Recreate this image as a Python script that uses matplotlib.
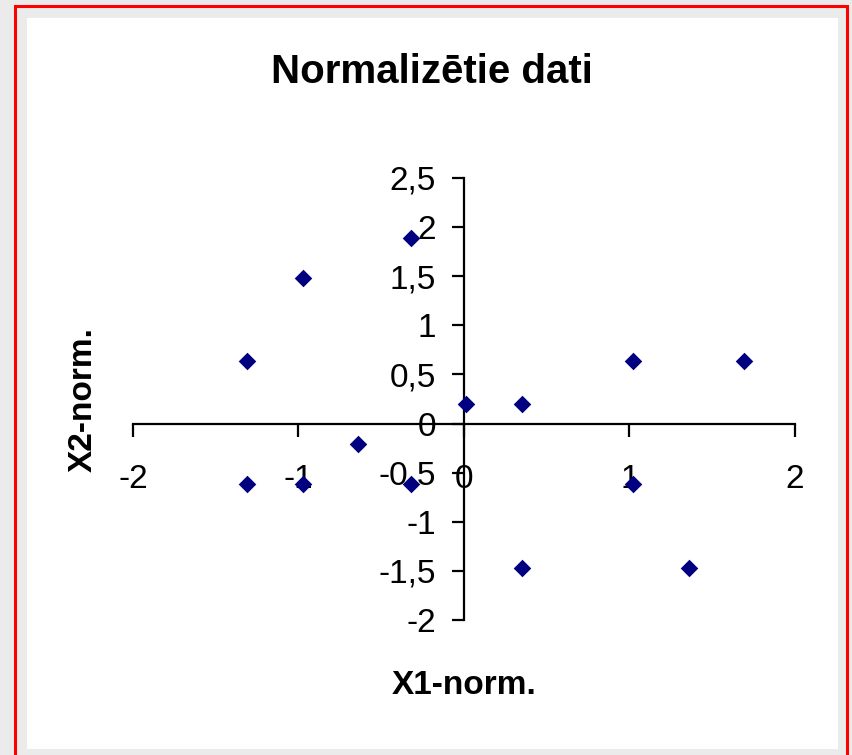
import matplotlib.pyplot as plt
import matplotlib.patches as patches
from matplotlib.ticker import FuncFormatter

# normalized data
x1_norm = [-1.31, -1.31, -0.97, -0.97, -0.64, -0.32, -0.32, 0.01, 0.35, 0.35, 1.02, 1.02, 1.36, 1.69]
x2_norm = [0.64, -0.62, 1.48, -0.62, -0.21, 1.89, -0.62, 0.2, 0.2, -1.47, 0.64, -0.62, -1.47, 0.64]

x_ticks = [-2, -1, 0, 1, 2]
y_ticks = [-2, -1.5, -1, -0.5, 0, 0.5, 1, 1.5, 2, 2.5]

plt.rcParams['font.family'] = ['Liberation Sans', 'DejaVu Sans']

W, H = 853, 755
fig = plt.figure(figsize=(W / 100, H / 100), dpi=100)
fig.patch.set_facecolor('#ebebeb')

# white chart area and red frame (pixel coords from top-left)
def fr(x0, y0, x1, y1):
    return (x0 / W, 1 - y1 / H), (x1 - x0) / W, (y1 - y0) / H

xy, w, h = fr(27, 18, 838, 749)
fig.patches.append(patches.Rectangle(xy, w, h, transform=fig.transFigure,
                                     facecolor='white', edgecolor='none', zorder=-2))
xy, w, h = fr(15.5, 5.5, 847.5, 770)
fig.patches.append(patches.Rectangle(xy, w, h, transform=fig.transFigure,
                                     facecolor='none', edgecolor='#ff0000', lw=2.2, zorder=-1))

ax = fig.add_axes([133 / W, 1 - 620 / H, 662 / W, 442 / H])
ax.patch.set_alpha(0)

ax.scatter(x1_norm, x2_norm, marker='D', s=80, color='#000080', linewidths=0, zorder=3,
           clip_on=False)

ax.set_xlim(-2, 2)
ax.set_ylim(-2, 2.5)
ax.spines['left'].set_position(('data', 0))
ax.spines['bottom'].set_position(('data', 0))
ax.spines['top'].set_visible(False)
ax.spines['right'].set_visible(False)
ax.spines['left'].set_linewidth(1.6)
ax.spines['bottom'].set_linewidth(1.6)

ax.set_xticks(x_ticks)
ax.set_yticks(y_ticks)
fmt = FuncFormatter(lambda v, p: ('%g' % v).replace('.', ','))
ax.xaxis.set_major_formatter(fmt)
ax.yaxis.set_major_formatter(fmt)
ax.tick_params(axis='x', direction='out', length=9, width=1.6, labelsize=24, pad=20)
ax.tick_params(axis='y', direction='out', length=9, width=1.6, labelsize=24, pad=11)

fig.text(432 / W, 1 - 72 / H, 'Normalizētie dati', ha='center', va='center',
         fontsize=29, fontweight='bold')
fig.text(464 / W, 1 - 686 / H, 'X1-norm.', ha='center', va='center',
         fontsize=24, fontweight='bold')
fig.text(83 / W, 1 - 400 / H, 'X2-norm.', ha='center', va='center', rotation=90,
         fontsize=24, fontweight='bold')

fig.savefig('out.png', dpi=100, facecolor=fig.get_facecolor())
